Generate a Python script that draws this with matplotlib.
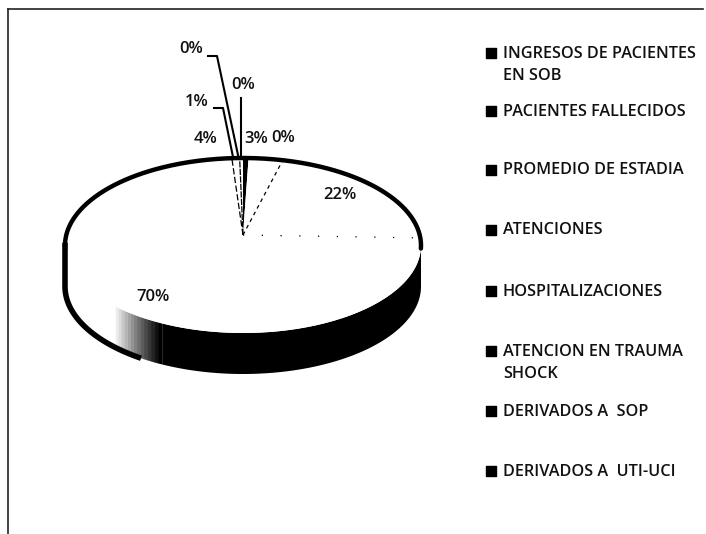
"""Scanned 3D style pie chart, drawn in image pixel coordinates."""

import numpy as np
import matplotlib
matplotlib.use("Agg")

import matplotlib.pyplot as plt

W, H = 706, 534

categories = [
    "INGRESOS DE PACIENTES\nEN SOB",
    "PACIENTES FALLECIDOS",
    "PROMEDIO DE ESTADIA",
    "ATENCIONES",
    "HOSPITALIZACIONES",
    "ATENCION EN TRAUMA\nSHOCK",
    "DERIVADOS A  SOP",
    "DERIVADOS A  UTI-UCI",
]
values = [0.5, 2.9, 0.2, 22.0, 69.7, 3.7, 0.7, 0.3]
pct_labels = ["0%", "3%", "0%", "22%", "70%", "4%", "1%", "0%"]
slice_colors = ["black", "white", "white", "white", "white", "white", "white", "white"]

label_pos = [(243, 85), (256, 139), (283, 138), (340, 195), (153, 297), (206, 139), (197, 102), (191, 49)]
legend_y = [53, 111, 170, 230, 291, 351, 411, 471]

CX, CY, RX, RY = 243, 245.5, 178, 87.5
APEX = (243, 235)
DEPTH = 41


def rim(theta):
    """Rim point for clockwise angle from 12 o'clock, radians."""
    return CX + RX * np.sin(theta), CY - RY * np.cos(theta)


plt.rcParams["font.family"] = ["Open Sans", "DejaVu Sans"]
fig = plt.figure(figsize=(W / 100, H / 100), dpi=100)
ax = fig.add_axes([0, 0, 1, 1])
ax.set_xlim(0, W)
ax.set_ylim(H, 0)
ax.axis("off")

# scanned frame
ax.plot([8, 703], [9, 9], color="#222222", lw=1.2)
ax.plot([8, 8], [9, 534], color="#222222", lw=1.2)

fractions = np.array(values) / sum(values)
edges = np.concatenate([[0], np.cumsum(fractions)]) * 2 * np.pi

# side band, black on the right and front
band_end = np.radians(207)
t = np.linspace(np.pi / 2, band_end, 200)
x, y = rim(t)
ax.fill(np.r_[x, x[::-1]], np.r_[y, y[::-1] + DEPTH], color="black", lw=0)

# fade from black to white at the end of the band
fade = np.linspace(band_end, np.radians(227), 16)
for i in range(len(fade) - 1):
    ft = np.linspace(fade[i], fade[i + 1] + 0.005, 5)
    fx, fy = rim(ft)
    ax.fill(np.r_[fx, fx[::-1]], np.r_[fy, fy[::-1] + DEPTH], color=str(i / 14), lw=0)

# slices
for i, color in enumerate(slice_colors):
    arc = np.linspace(edges[i], edges[i + 1], 80)
    ax_, ay_ = rim(arc)
    ax.fill(np.r_[APEX[0], ax_], np.r_[APEX[1], ay_], color=color, lw=0, zorder=3)

# outer lower outline on the white part of the band
t_low = np.linspace(np.radians(216), np.radians(270), 80)
lx, ly = rim(t_low)
ax.plot(np.r_[lx, lx[-1]], np.r_[ly + DEPTH, ly[-1]], color="black", lw=4, zorder=5, solid_joinstyle="round")

# visible slice borders (the rest is lost in the scan)
for i, style in [(2, (3, 3)), (3, (1, 14)), (5, (5, 2)), (6, (5, 1))]:
    ex, _ = rim(edges[i + 1])
    ey = APEX[1] - 77 * np.cos(edges[i + 1])
    ax.plot([APEX[0], ex], [APEX[1], ey], color="black", lw=0.9, ls=(0, style), zorder=4)

# thick rim over the top
rx, ry = rim(np.linspace(np.radians(268), np.radians(452), 300))
ax.plot(rx, ry, color="black", lw=3.2, zorder=5, solid_capstyle="round")

# leader lines
ax.plot([241, 241], [98, 157], color="black", lw=1.5, zorder=6)
ax.plot([214, 223, 233], [108, 108, 157], color="black", lw=1.5, zorder=6)
ax.plot([208, 217, 238], [56, 56, 155], color="black", lw=1.5, zorder=6)

for (px, py), txt in zip(label_pos, pct_labels):
    ax.text(px, py, txt, ha="center", va="center", fontsize=12, fontweight="semibold", color="#111111", zorder=7)

# legend
ax.scatter([491] * len(legend_y), legend_y, marker="s", s=42, color="black", zorder=7)
for ly_, txt in zip(legend_y, categories):
    ax.text(503, ly_ - 7.5, txt, ha="left", va="top", fontsize=11.7, color="#111111", linespacing=1.55, fontweight="semibold", zorder=7)

fig.savefig("out.png", dpi=100, facecolor="white")
